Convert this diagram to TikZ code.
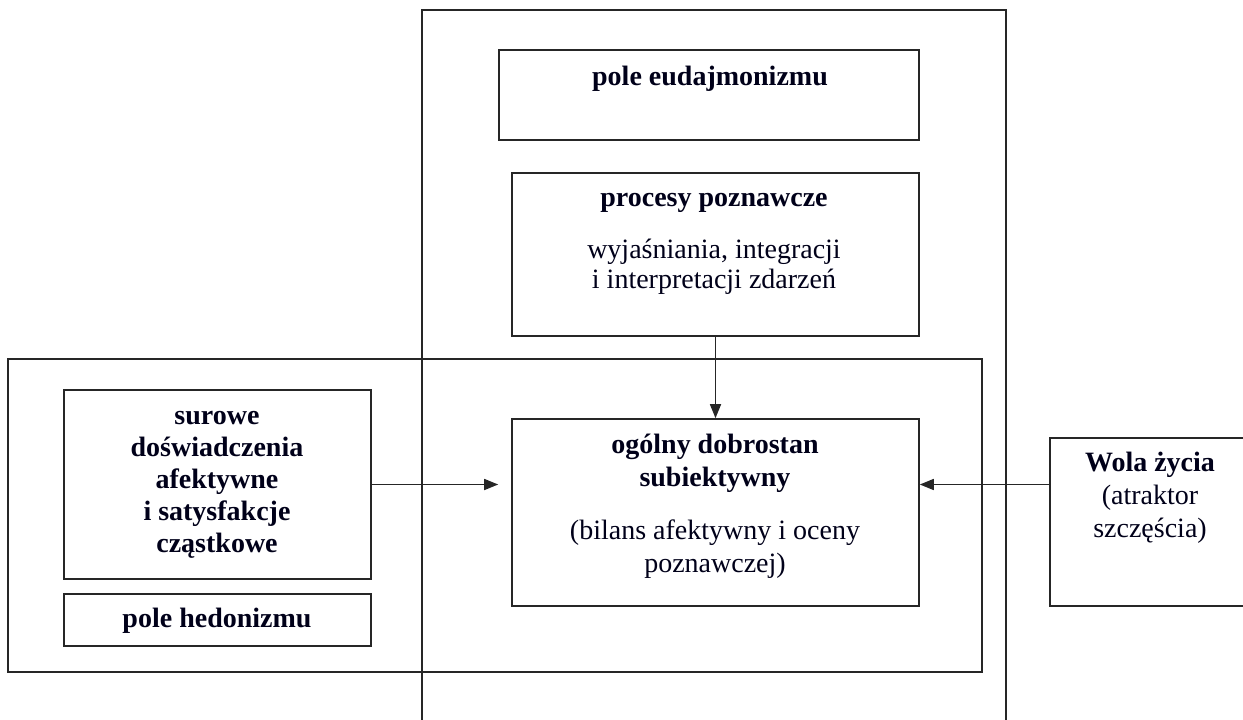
\documentclass[tikz,border=0pt]{standalone}
\usepackage{fontspec}
\setmainfont{Liberation Serif}
\usetikzlibrary{arrows.meta}
\tikzset{
  frame/.style={draw=black!85, line width=1.6pt, rectangle, inner sep=0pt},
  txt/.style={align=center, inner sep=0pt, text=black!90!blue},
  arr/.style={draw=black!85, line width=1.6pt, -{Triangle[length=14pt,width=11pt]}},
}
\newcommand{\fs}[1]{\fontsize{28}{#1}\selectfont}
\begin{document}
\begin{tikzpicture}[x=1pt,y=-1pt]
\useasboundingbox (0,0) rectangle (1243,720);
% pola eudajmonizmu i hedonizmu
\draw[frame] (422,10) rectangle (1006,740);
\draw[frame] (8,359) rectangle (982,672);
% prostokaty
\node[frame, minimum width=420, minimum height=90] (eud) at (709,95) {};
\node[frame, minimum width=407, minimum height=163] (proc) at (715.5,254.5) {};
\node[frame, minimum width=407, minimum height=187] (ogol) at (715.5,512.5) {};
\node[frame, minimum width=307, minimum height=189] (sur) at (217.5,484.5) {};
\node[frame, minimum width=307, minimum height=52] (hed) at (217.5,620) {};
\node[frame, minimum width=210, minimum height=168] (wola) at (1155,522) {};
% teksty
\node[txt, font=\fs{32}\bfseries] (eudtxt) at (710,79) {pole eudajmonizmu};
\node[txt, font=\fs{30}] (proctxt) at (714,244)
  {\textbf{procesy poznawcze}\\[22pt] wyjaśniania, integracji\\ i interpretacji zdarzeń};
\node[txt, font=\fs{33}] (ogoltxt) at (715,506)
  {\textbf{ogólny dobrostan}\\ \textbf{subiektywny}\\[20pt] (bilans afektywny i oceny\\ poznawczej)};
\node[txt, font=\fs{32}\bfseries] (surtxt) at (217,485)
  {surowe\\ doświadczenia\\ afektywne\\ i satysfakcje\\ cząstkowe};
\node[txt, font=\fs{32}\bfseries] (hedtxt) at (217,621) {pole hedonizmu};
\node[txt, font=\fs{33}] (wolatxt) at (1150,498)
  {\textbf{Wola życia}\\ (atraktor\\ szczęścia)};
% strzalki
\draw[arr] (proc) -- (ogol);
\draw[arr, shorten >=13pt] (sur.east) -- (sur.east -| ogol.west);
\draw[arr] (wola.west |- sur.east) -- (ogol.east |- sur.east);
\end{tikzpicture}
\end{document}
